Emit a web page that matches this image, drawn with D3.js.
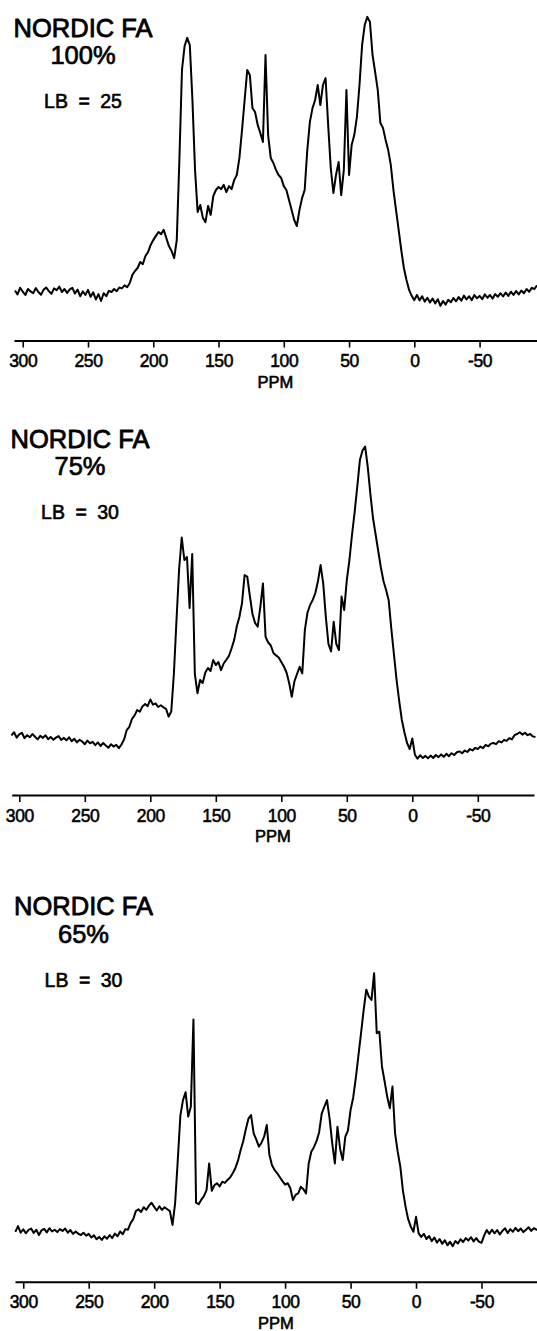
<!DOCTYPE html>
<html>
<head>
<meta charset="utf-8">
<script src="https://cdn.jsdelivr.net/npm/d3@7"></script>
<style>
  html, body { margin: 0; padding: 0; background: #fff; }
  svg { display: block; }
  text { font-family: "Liberation Sans", Arial, Helvetica, sans-serif; fill: #000; }
</style>
</head>
<body>
<svg id="chart" width="537" height="1331"></svg>
<script>
// Chemical shift grid (ppm), shared by all three spectra
const PPM = [
  306,304,302,300,298,296,294,292,290,288,
  286,284,282,280,278,276,274,272,270,268,
  266,264,262,260,258,256,254,252,250,248,
  246,244,242,240,238,236,234,232,230,228,
  226,224,222,220,218,216,214,212,210,208,
  206,204,202,200,198,196,194,192,190,188,
  186,184,182,180,178,176,174,172,170,168,
  166,164,162,160,158,156,154,152,150,148,
  146,144,142,140,138,136,134,132,130,128,
  126,124,122,120,118,116,114,112,110,108,
  106,104,102,100,98,96,94,92,90,88,
  86,84,82,80,78,76,74,72,70,68,
  66,64,62,60,58,56,54,52,50,48,
  46,44,42,40,38,36,34,32,30,28,
  26,24,22,20,18,16,14,12,10,8,
  6,4,2,0,-2,-4,-6,-8,-10,-12,
  -14,-16,-18,-20,-22,-24,-26,-28,-30,-32,
  -34,-36,-38,-40,-42,-44,-46,-48,-50,-52,
  -54,-56,-58,-60,-62,-64,-66,-68,-70,-72,
  -74,-76,-78,-80,-82,-84,-86,-88,-90,-92,
  -94
];

// 13C CPMAS intensities (relative units) – Nordic fulvic acid, 100 % fraction
const NORDIC_100 = [
  6.5, 5.2, 7.4, 6.1, 5.0, 7.0, 6.2, 5.6, 7.3, 6.0,
  5.1, 6.8, 7.5, 6.3, 5.4, 7.2, 6.6, 7.8, 6.0, 7.0,
  5.7, 6.9, 7.4, 5.5, 6.8, 4.6, 6.2, 5.0, 6.7, 4.4,
  5.9, 3.5, 5.3, 3.0, 5.6, 4.6, 6.4, 6.0, 7.0, 6.3,
  7.5, 7.2, 8.2, 7.6, 9.0, 11.7, 13.0, 14.0, 16.0, 15.3,
  18.0, 19.3, 21.7, 23.3, 24.7, 26.0, 25.3, 26.7, 24.0, 21.3,
  19.7, 17.3, 23.3, 50.0, 80.0, 88.0, 90.7, 88.3, 70.0, 46.7,
  32.7, 35.0, 30.7, 29.3, 34.7, 31.7, 38.0, 40.0, 41.0, 40.3,
  41.7, 39.3, 41.3, 40.3, 43.3, 45.0, 50.7, 60.0, 70.0, 80.0,
  78.3, 67.3, 66.0, 61.7, 59.0, 56.0, 85.0, 58.3, 50.7, 49.0,
  46.7, 45.0, 44.0, 41.3, 40.0, 36.7, 33.3, 30.0, 28.0, 33.3,
  37.3, 40.0, 53.3, 62.7, 67.3, 70.0, 75.0, 68.3, 75.0, 77.3,
  61.7, 47.3, 39.0, 45.0, 49.3, 38.3, 46.7, 73.3, 45.0, 55.0,
  58.3, 64.3, 75.0, 88.3, 95.0, 97.7, 96.0, 85.0, 79.3, 73.3,
  62.3, 60.7, 56.7, 53.3, 48.3, 40.0, 33.3, 26.7, 20.0, 14.0,
  10.0, 6.7, 4.7, 3.3, 5.0, 3.2, 4.6, 2.8, 4.1, 2.5,
  3.8, 2.2, 3.6, 1.4, 3.0, 1.8, 3.4, 2.6, 4.0, 2.9,
  4.3, 3.1, 4.8, 3.5, 4.6, 3.3, 5.0, 3.9, 4.7, 3.6,
  5.2, 4.1, 5.0, 3.8, 5.3, 4.4, 5.6, 4.5, 5.8, 4.7,
  6.1, 5.0, 6.3, 5.2, 6.5, 5.6, 7.0, 6.1, 7.4, 7.0,
  8.2
];

// 75 % fraction
const NORDIC_75 = [
  9.5, 10.6, 8.8, 9.9, 10.4, 8.6, 9.6, 8.9, 10.0, 9.1,
  8.2, 9.4, 8.7, 9.6, 8.3, 9.0, 8.1, 8.8, 9.3, 8.0,
  8.7, 7.9, 8.9, 7.6, 8.4, 7.2, 8.1, 7.5, 6.6, 7.8,
  6.9, 7.4, 6.3, 7.2, 6.0, 7.0, 6.2, 5.4, 6.6, 5.8,
  6.4, 5.3, 6.5, 8.2, 11.3, 12.4, 15.0, 16.2, 18.0, 17.4,
  19.2, 20.0, 19.3, 21.5, 19.8, 20.2, 19.0, 19.6, 18.9, 18.4,
  15.8, 17.5, 30.0, 48.0, 65.0, 75.5, 68.0, 69.0, 52.0, 70.0,
  30.0, 23.6, 28.0, 27.0, 30.5, 32.0, 31.0, 34.7, 33.0, 34.0,
  31.3, 33.5, 34.7, 36.0, 38.5, 41.3, 45.8, 49.0, 53.6, 63.0,
  62.5, 56.0, 50.0, 47.0, 45.8, 52.4, 60.2, 42.4, 40.5, 39.5,
  37.0, 36.2, 35.5, 34.0, 32.5, 30.5, 27.0, 22.4, 27.5, 30.0,
  32.4, 30.2, 44.7, 50.5, 53.0, 54.7, 57.0, 61.0, 66.3, 60.2,
  49.0, 40.0, 37.5, 47.4, 40.0, 38.0, 55.8, 51.3, 61.3, 68.0,
  76.5, 84.0, 92.5, 101.3, 104.5, 105.8, 99.0, 90.0, 82.0, 76.5,
  71.0, 65.5, 61.0, 58.0, 54.5, 45.0, 36.5, 28.0, 21.0, 14.7,
  10.5, 7.0, 5.0, 8.5, 3.1, 1.8, 2.9, 2.0, 2.7, 1.9,
  2.8, 2.0, 3.0, 2.3, 3.2, 2.4, 3.4, 2.6, 3.6, 3.0,
  3.9, 4.2, 3.6, 4.5, 4.0, 5.0, 4.5, 5.4, 5.0, 5.8,
  5.3, 6.4, 5.9, 6.8, 7.0, 6.6, 7.6, 7.2, 8.0, 7.7,
  8.6, 8.2, 9.6, 10.0, 10.6, 9.8, 10.4, 9.6, 10.0, 9.2,
  9.0
];

// 65 % fraction
const NORDIC_65 = [
  6.3, 8.2, 6.0, 7.1, 5.8, 6.9, 7.4, 5.9, 7.0, 5.2,
  6.8, 7.3, 6.1, 7.5, 6.4, 7.0, 6.2, 7.2, 6.6, 7.4,
  6.0, 6.9, 5.6, 6.4, 5.7, 5.2, 6.0, 5.0, 5.6, 4.4,
  5.1, 3.8, 4.6, 3.6, 4.8, 4.0, 5.2, 4.2, 5.7, 4.8,
  6.4, 5.5, 7.2, 7.0, 9.2, 10.5, 13.2, 13.8, 12.9, 14.5,
  13.6, 15.0, 16.0, 14.6, 13.4, 14.8, 13.6, 14.5, 13.8, 13.2,
  8.6, 15.8, 30.0, 45.0, 50.2, 52.8, 44.7, 48.0, 77.1, 16.0,
  15.5, 17.0, 18.2, 20.2, 29.1, 20.0, 21.8, 22.5, 21.4, 23.0,
  22.6, 23.6, 24.4, 25.8, 27.5, 30.0, 33.5, 36.5, 40.5, 44.0,
  45.2, 39.1, 37.0, 34.7, 36.0, 38.0, 41.9, 32.0, 28.5, 26.9,
  25.8, 24.5, 23.2, 22.0, 22.5, 20.8, 16.9, 18.6, 19.1, 21.3,
  20.5, 19.1, 29.0, 33.0, 34.5, 36.5, 39.5, 45.8, 48.0, 50.2,
  44.0, 35.8, 29.1, 41.3, 34.0, 30.2, 38.0, 40.0, 46.9, 51.0,
  57.5, 65.0, 72.5, 80.2, 87.0, 84.7, 83.6, 92.5, 72.5, 73.0,
  61.3, 56.5, 51.3, 47.5, 54.7, 39.1, 33.0, 28.0, 20.0, 14.7,
  10.5, 8.0, 6.3, 11.3, 5.8, 4.6, 5.6, 3.9, 4.9, 3.2,
  4.4, 2.7, 3.9, 2.3, 3.5, 1.8, 3.0, 1.5, 3.2, 2.4,
  3.8, 2.9, 4.2, 3.4, 4.5, 3.1, 4.2, 3.0, 2.6, 5.0,
  6.9, 5.6, 7.0, 5.8, 6.9, 5.4, 6.6, 7.5, 5.9, 7.2,
  6.3, 7.6, 6.5, 7.4, 6.2, 7.0, 7.8, 6.6, 7.5, 7.0,
  6.9
];

const TICK_VALUES = [300, 250, 200, 150, 100, 50, 0, -50];
const TICK_LABELS = ["300", "250", "200", "150", "100", "50", "0", "-50"];
const AXIS_TITLE = "PPM";

const SAMPLE_NAMES = ["NORDIC FA", "NORDIC FA", "NORDIC FA"];
const FRACTIONS = ["100%", "75%", "65%"];
const LINE_BROADENING = ["LB = 25", "LB = 30", "LB = 30"];

// Layout of the three stacked spectra
const panels = [
  { values: NORDIC_100, ppmDomain: [306.7, -94.0], xRange: [14, 537],   axisY: 340.5,  baseY: 310,    labelX: 83,   labelY: [36.7, 64, 108] },
  { values: NORDIC_75,  ppmDomain: [305.8, -92.9], xRange: [11.7, 534], axisY: 795,    baseY: 764,    labelX: 80,   labelY: [447.7, 475, 519] },
  { values: NORDIC_65,  ppmDomain: [306.3, -92.4], xRange: [15, 537],   axisY: 1281.7, baseY: 1250.7, labelX: 83.5, labelY: [915, 942.7, 986.7] }
];

const svg = d3.select("#chart");

function heavyText(sel, size, stroke) {
  return sel.style("font-size", size + "px")
    .attr("stroke", "#000")
    .attr("stroke-width", stroke)
    .attr("stroke-linejoin", "round");
}

panels.forEach((p, k) => {
  const x = d3.scaleLinear().domain(p.ppmDomain).range(p.xRange);
  const y = d3.scaleLinear().domain([0, 100]).range([p.baseY, p.baseY - 300]);

  const g = svg.append("g").attr("class", "panel");

  // spectrum trace
  const line = d3.line()
    .x((d, i) => x(PPM[i]))
    .y(d => y(d));

  g.append("path")
    .datum(p.values)
    .attr("fill", "none")
    .attr("stroke", "#000")
    .attr("stroke-width", 2)
    .attr("stroke-linejoin", "round")
    .attr("d", line);

  // chemical shift axis
  const axis = d3.axisBottom(x)
    .tickValues(TICK_VALUES)
    .tickFormat((d, i) => TICK_LABELS[i])
    .tickSize(7)
    .tickSizeOuter(0);

  const ag = g.append("g")
    .attr("transform", `translate(0,${p.axisY})`)
    .call(axis);
  ag.attr("font-size", null).attr("font-family", null);

  ag.select(".domain").attr("stroke", "#000").attr("stroke-width", 2);
  ag.selectAll(".tick line").attr("stroke", "#000").attr("stroke-width", 1.6);
  heavyText(ag.selectAll(".tick text")
    .attr("dy", null)
    .attr("y", 26.5)
    .attr("fill", "#000")
    .style("font-family", "'Liberation Sans', Arial, sans-serif"), 17.5, 0.55)
    .style("letter-spacing", "-0.4px");

  heavyText(g.append("text")
    .attr("x", (p.xRange[0] + p.xRange[1]) / 2)
    .attr("y", p.axisY + 47)
    .attr("text-anchor", "middle")
    .text(AXIS_TITLE), 16.5, 0.6);

  // sample labels
  heavyText(g.append("text")
    .attr("x", p.labelX).attr("y", p.labelY[0])
    .attr("text-anchor", "middle")
    .text(SAMPLE_NAMES[k]), 25.5, 0.8);
  heavyText(g.append("text")
    .attr("x", p.labelX).attr("y", p.labelY[1])
    .attr("text-anchor", "middle")
    .text(FRACTIONS[k]), 25.5, 0.7);
  heavyText(g.append("text")
    .attr("x", p.labelX).attr("y", p.labelY[2])
    .attr("text-anchor", "middle")
    .style("word-spacing", "5px")
    .text(LINE_BROADENING[k]), 19.5, 0.6);
});
</script>
</body>
</html>
